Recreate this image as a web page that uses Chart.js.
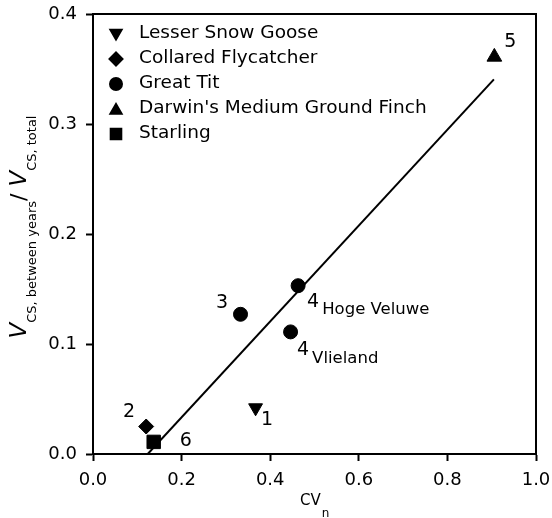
<!DOCTYPE html>
<html>
<head>
<meta charset="utf-8">
<script src="https://cdn.jsdelivr.net/npm/chart.js@4.4.1/dist/chart.umd.min.js"></script>
<style>
  html, body { margin: 0; padding: 0; background: #fff; }
  canvas { display: block; }
</style>
</head>
<body>
<canvas id="cvChart" width="552" height="518"></canvas>
<script>
// Species shown in the legend
const speciesNames = ['Lesser Snow Goose', 'Collared Flycatcher', 'Great Tit', "Darwin's Medium Ground Finch", 'Starling'];

// Values (x = CVn, y = V_CS between years / V_CS total)
const snowGooseX = [0.367];
const snowGooseY = [0.042];
const flycatcherX = [0.120];
const flycatcherY = [0.025];
const greatTitX = [0.333, 0.463, 0.446];
const greatTitY = [0.127, 0.153, 0.111];
const finchX = [0.906];
const finchY = [0.361];
const starlingX = [0.137];
const starlingY = [0.011];

// Population numbers next to the points (with optional subscript)
const snowGooseLabels = ['1'];
const flycatcherLabels = ['2'];
const greatTitLabels = ['3', '4', '4'];
const greatTitSubs = ['', 'Hoge Veluwe', 'Vlieland'];
const finchLabels = ['5'];
const starlingLabels = ['6'];

// Regression line
const fitX = [0.1235, 0.905];
const fitY = [0.0, 0.3406];

// Axis ticks
const xTicks = [0.0, 0.2, 0.4, 0.6, 0.8, 1.0];
const yTicks = [0.0, 0.1, 0.2, 0.3, 0.4];

const FONT = "'DejaVu Sans', sans-serif";

function toPoints(xs, ys) {
  return xs.map((x, i) => ({ x: x, y: ys[i] }));
}

// marker styles: plot radius, legend radius
const markerStyles = [
  { pointStyle: 'triangle', rotation: 180, radius: 8, legendRadius: 6.5 },
  { pointStyle: 'rectRot', rotation: 0, radius: 7.5, legendRadius: 6.5 },
  { pointStyle: 'circle', rotation: 0, radius: 7, legendRadius: 6 },
  { pointStyle: 'triangle', rotation: 0, radius: 8.5, legendRadius: 6.5 },
  { pointStyle: 'rect', rotation: 0, radius: 9.5, legendRadius: 7.5 }
];

const seriesData = [
  toPoints(snowGooseX, snowGooseY),
  toPoints(flycatcherX, flycatcherY),
  toPoints(greatTitX, greatTitY),
  toPoints(finchX, finchY),
  toPoints(starlingX, starlingY)
];

const seriesLabels = [snowGooseLabels, flycatcherLabels, greatTitLabels, finchLabels, starlingLabels];
const seriesSubs = [[''], [''], greatTitSubs, [''], ['']];

// label offsets (px) from each point centre
const labelOffsets = [
  [[11.5, 12.5]],
  [[-17, -14.5]],
  [[-18.5, -11], [15, 16], [12.5, 18.5]],
  [[16, -15]],
  [[32, -1]]
];

const datasets = speciesNames.map((name, i) => ({
  label: name,
  data: seriesData[i],
  pointStyle: markerStyles[i].pointStyle,
  rotation: markerStyles[i].rotation,
  pointRadius: markerStyles[i].radius,
  pointHoverRadius: markerStyles[i].radius,
  backgroundColor: '#000',
  borderColor: '#000',
  borderWidth: 1,
  showLine: false
}));

datasets.push({
  label: 'fit',
  data: toPoints(fitX, fitY),
  showLine: true,
  borderColor: '#000',
  borderWidth: 2,
  pointRadius: 0,
  fill: false
});

const decorPlugin = {
  id: 'decor',
  afterDatasetsDraw(chart) {
    const ctx = chart.ctx;
    const area = chart.chartArea;
    ctx.save();

    // top and right frame lines
    ctx.strokeStyle = '#000';
    ctx.lineWidth = 2;
    ctx.beginPath();
    ctx.moveTo(area.left, area.top);
    ctx.lineTo(area.right, area.top);
    ctx.lineTo(area.right, area.bottom);
    ctx.stroke();

    // legend
    ctx.fillStyle = '#000';
    ctx.textAlign = 'left';
    ctx.textBaseline = 'middle';
    ctx.font = '18.5px ' + FONT;
    speciesNames.forEach((name, i) => {
      const y = 34 + i * 25;
      const st = markerStyles[i];
      let my = y;
      if (st.pointStyle === 'triangle') my = st.rotation ? y - 1 : y + 1.5;
      Chart.helpers.drawPoint(ctx, {
        pointStyle: st.pointStyle,
        rotation: st.rotation,
        radius: st.legendRadius,
        borderWidth: 1
      }, 116, my);
      ctx.fillStyle = '#000';
      ctx.fillText(name, 139, y - 1);
    });

    // population numbers
    seriesLabels.forEach((labels, i) => {
      const meta = chart.getDatasetMeta(i);
      labels.forEach((lab, j) => {
        const pt = meta.data[j];
        const off = labelOffsets[i][j];
        const lx = pt.x + off[0];
        const ly = pt.y + off[1];
        ctx.font = '19px ' + FONT;
        ctx.textAlign = 'center';
        ctx.textBaseline = 'middle';
        ctx.fillText(lab, lx, ly);
        const sub = seriesSubs[i][j];
        if (sub) {
          const w = ctx.measureText(lab).width;
          ctx.font = '16.5px ' + FONT;
          ctx.textAlign = 'left';
          ctx.fillText(sub, lx + w / 2 + 3, ly + 8);
        }
      });
    });

    // x axis title: CV with subscript n
    ctx.textAlign = 'left';
    ctx.textBaseline = 'alphabetic';
    ctx.font = '15px ' + FONT;
    ctx.fillText('CV', 300, 505);
    const cvw = ctx.measureText('CV').width;
    ctx.font = '12px ' + FONT;
    ctx.fillText('n', 300 + cvw + 1, 517);

    // y axis title, rotated
    const parts = [
      { t: 'V', f: 'italic 23px ' + FONT, dy: 0 },
      { t: 'CS, between years', f: '13px ' + FONT, dy: 10 },
      { t: '/ ', f: '22px ' + FONT, dy: 0 },
      { t: 'V', f: 'italic 23px ' + FONT, dy: 0 },
      { t: 'CS, total', f: '13px ' + FONT, dy: 10 }
    ];
    let total = 0;
    parts.forEach(p => { ctx.font = p.f; p.w = ctx.measureText(p.t).width; total += p.w; });
    ctx.translate(26, 227);
    ctx.rotate(-Math.PI / 2);
    let px = -total / 2;
    parts.forEach(p => {
      ctx.font = p.f;
      ctx.fillText(p.t, px, p.dy);
      px += p.w;
    });

    ctx.restore();
  }
};

new Chart(document.getElementById('cvChart').getContext('2d'), {
  type: 'scatter',
  data: { datasets: datasets },
  options: {
    responsive: false,
    animation: false,
    events: [],
    layout: { padding: { left: 0, top: 14, right: 16, bottom: 0 } },
    plugins: {
      legend: { display: false },
      tooltip: { enabled: false },
      title: { display: false }
    },
    scales: {
      x: {
        type: 'linear',
        min: 0,
        max: 1,
        afterBuildTicks: scale => { scale.ticks = xTicks.map(v => ({ value: v })); },
        afterFit: scale => { scale.height = 64; scale.paddingLeft = 0; scale.paddingRight = 0; },
        ticks: {
          color: '#000',
          padding: 9,
          font: { family: FONT, size: 18 },
          callback: v => Number(v).toFixed(1),
          maxRotation: 0
        },
        grid: { drawOnChartArea: false, drawTicks: true, tickLength: 7, tickColor: '#000', tickWidth: 2 },
        border: { display: true, color: '#000', width: 2 }
      },
      y: {
        type: 'linear',
        min: 0,
        max: 0.4,
        afterBuildTicks: scale => { scale.ticks = yTicks.map(v => ({ value: v })); },
        afterFit: scale => { scale.width = 93; scale.paddingTop = 0; scale.paddingBottom = 0; },
        ticks: {
          color: '#000',
          padding: 9,
          font: { family: FONT, size: 18 },
          callback: v => Number(v).toFixed(1)
        },
        grid: { drawOnChartArea: false, drawTicks: true, tickLength: 7, tickColor: '#000', tickWidth: 2 },
        border: { display: true, color: '#000', width: 2 }
      }
    }
  },
  plugins: [decorPlugin]
});
</script>
</body>
</html>
